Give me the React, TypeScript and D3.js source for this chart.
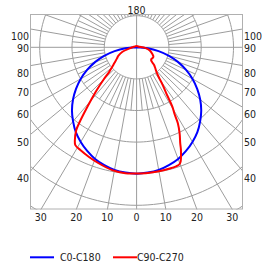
import React from 'react';
import * as d3 from 'd3';

// luminous intensity, angle from nadir (deg) -> value
const c0Angles = [0, 5, 10, 15, 20, 25, 30, 35, 40, 45, 50, 55, 60, 65, 70, 75, 80, 85, 90];
const c0Values = [400, 398, 394, 386, 376, 362, 346, 328, 306, 283, 257, 229, 200, 169, 137, 104, 69, 35, 0];

// C90 half-plane (drawn to the right)
const c90Angles = [0, 5, 10, 15, 18, 19.5, 20.7, 22, 23, 24, 26, 28, 29, 30.5, 32, 34, 36, 38, 40, 42, 44, 45, 47, 50, 55, 60, 65, 70, 75, 80, 85, 90, 100];
const c90Values = [399, 399, 398, 397, 396, 394, 386, 367, 351, 332, 304, 272, 244, 218, 177, 146, 117, 101, 92, 85, 78, 71, 62, 59, 60, 60, 55, 49, 43, 36, 28, 19, 9];

// C270 half-plane (drawn to the left)
const c270Angles = [5, 11, 18, 23, 28, 31.5, 33, 35.5, 36.5, 39, 42, 45, 47.5, 50, 54, 60, 65, 72, 81, 90, 100];
const c270Values = [400, 396, 385, 377, 369, 363, 351, 322, 300, 242, 189, 145, 115, 100, 85, 70, 62, 46, 22, 13, 9];
const zenithValue = 4;

const rings = [100, 200, 300, 400, 500, 600];
const sideLabels = [100, 90, 80, 70, 60, 50, 40];
const bottomLabels = [-30, -20, -10, 0, 10, 20, 30];

const legend = [
  { name: 'C0-C180', color: '#0000ff', x: 30 },
  { name: 'C90-C270', color: '#ff0000', x: 113 },
];

const box = { left: 30, right: 243, top: 14, bottom: 209.5 };
const cx = 136.6;
const cy = 47.3;

// horizontal and vertical pixel per cd scales differ slightly
const x = d3.scaleLinear().domain([0, 100]).range([cx, cx + 32.3]);
const y = d3.scaleLinear().domain([0, 100]).range([cy, cy + 31.6]);

const rad = (deg: number) => (deg * Math.PI) / 180;
const pt = (deg: number, v: number): [number, number] => [
  x(v * Math.sin(rad(deg))),
  y(v * Math.cos(rad(deg))),
];

const font = "'DejaVu Sans Condensed', 'Liberation Sans', Arial, sans-serif";
const grid = '#9c9c9c';

export default function App() {
  const lineGen = d3.line().curve(d3.curveCatmullRom.alpha(0.5));
  const closedGen = d3.line().curve(d3.curveCatmullRomClosed.alpha(0.5));

  const bluePts: [number, number][] = [
    ...c0Angles.slice().reverse().map((a, i, arr) => pt(-a, c0Values[c0Values.length - 1 - i])),
    ...c0Angles.slice(1).map((a, i) => pt(a, c0Values[i + 1])),
  ];

  const redPts: [number, number][] = [
    ...c270Angles.slice().reverse().map((a, i) => pt(-a, c270Values[c270Values.length - 1 - i])),
    ...c90Angles.map((a, i) => pt(a, c90Values[i])),
    pt(180, zenithValue),
  ];

  const ringPath = (v: number) => {
    const pts: [number, number][] = d3.range(0, 361, 2).map((a) => pt(a, v));
    return d3.line()(pts) as string;
  };

  const spokes: { a: number; from: number; to: number }[] = [];
  for (let a = 0; a < 360; a += 5) {
    if (a % 90 === 0) continue;
    spokes.push({ a, from: 100, to: a % 10 === 0 ? 1000 : 200 });
  }

  const halfW = (box.right - cx) / 32.3 * 100;
  const bottomV = (box.bottom - cy) / 31.6 * 100;

  return (
    <svg width={275} height={266} style={{ position: 'absolute', left: 0, top: 0, background: '#fff' }}>
      <defs>
        <clipPath id="plotClip">
          <rect x={box.left} y={box.top} width={box.right - box.left} height={box.bottom - box.top} />
        </clipPath>
      </defs>
      <g clipPath="url(#plotClip)" fill="none" stroke={grid} strokeWidth={1}>
        {rings.map((v) => (
          <path key={v} d={ringPath(v)} />
        ))}
        {spokes.map((s) => (
          <line
            key={s.a}
            x1={pt(s.a, s.from)[0]}
            y1={pt(s.a, s.from)[1]}
            x2={pt(s.a, s.to)[0]}
            y2={pt(s.a, s.to)[1]}
          />
        ))}
        <line x1={box.left} x2={box.right} y1={cy} y2={cy} />
        <line x1={cx} x2={cx} y1={box.top} y2={box.bottom} />
      </g>
      <rect
        x={box.left + 0.5}
        y={box.top + 0.5}
        width={box.right - box.left - 1}
        height={box.bottom - box.top - 1}
        fill="none"
        stroke="#b0b0b0"
      />

      <path d={lineGen(bluePts) as string} fill="none" stroke="#0000ff" strokeWidth={2} />
      <path d={closedGen(redPts) as string} fill="none" stroke="#ff0000" strokeWidth={2} />

      <g fontFamily={font} fontSize={10.5} fill="#222">
        <text x={cx} y={9.5} textAnchor="middle" dominantBaseline="central">180</text>
        {sideLabels.map((a) => {
          const v = halfW / Math.tan(rad(a));
          const yy = y(v) + (a === 90 ? 0.5 : 7);
          return (
            <g key={a}>
              <text x={box.left - 1} y={yy} textAnchor="end" dominantBaseline="central">{a}</text>
              <text x={box.right + 1} y={yy} textAnchor="start" dominantBaseline="central">{a}</text>
            </g>
          );
        })}
        {bottomLabels.map((a, i) => (
          <text key={i} x={x(bottomV * Math.tan(rad(a)))} y={216.7} textAnchor="middle" dominantBaseline="central">
            {Math.abs(a)}
          </text>
        ))}
        {legend.map((l) => (
          <g key={l.name}>
            <line x1={l.x} x2={l.x + 24} y1={257.3} y2={257.3} stroke={l.color} strokeWidth={2} />
            <text x={l.x + 30 - (l.name === 'C90-C270' ? 6 : 0)} y={257.3} dominantBaseline="central">{l.name}</text>
          </g>
        ))}
      </g>
    </svg>
  );
}
